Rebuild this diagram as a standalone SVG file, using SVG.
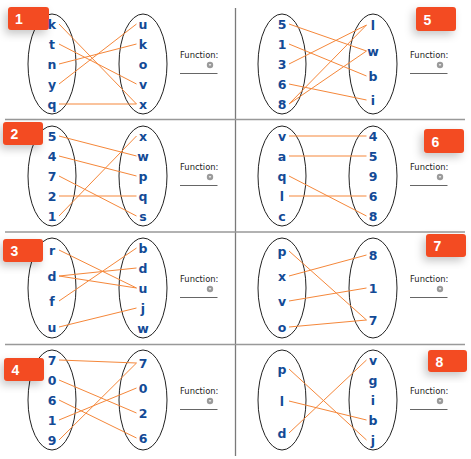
<svg xmlns="http://www.w3.org/2000/svg" width="471" height="459" viewBox="0 0 471 459">
<style>
.bg{fill:#fff}
.div{stroke:#999;stroke-width:1.5;fill:none}
.vdiv{stroke:#7a7a7a;stroke-width:1.3;fill:none}
.set{fill:none;stroke:#222;stroke-width:1}
.badge{fill:#f34b22}
.bn{font-family:"Liberation Sans",Arial,sans-serif;font-weight:bold;font-size:14px;fill:#fff}
.c{stroke:#f5873a;stroke-width:1;fill:none}
.v{font-family:"DejaVu Sans",Verdana,sans-serif;font-weight:bold;font-size:12.5px;fill:#134a96;text-anchor:middle}
.fl{font-family:"DejaVu Sans",Verdana,sans-serif;font-size:8.4px;fill:#222}
.ul{stroke:#666;stroke-width:1}
.dd{fill:#9a9a9a}
.ddt{fill:#fff}
</style>
<defs>
<filter id="sh" x="-50%" y="-50%" width="200%" height="200%">
<feDropShadow dx="-3" dy="4" stdDeviation="4" flood-color="#000" flood-opacity="0.22"/>
</filter>
</defs>
<rect class="bg" x="0" y="0" width="471" height="459"/>
<g id="dividers">
<line class="vdiv" x1="235.5" y1="8" x2="235.5" y2="456"/>
<line class="div" x1="5" y1="119.5" x2="465" y2="119.5"/>
<line class="div" x1="5" y1="232" x2="465" y2="232"/>
<line class="div" x1="5" y1="344.5" x2="465" y2="344.5"/>
</g>
<g id="sets">
<ellipse class="set" cx="52" cy="64" rx="24" ry="50"/><ellipse class="set" cx="143" cy="64" rx="24" ry="50"/>
<ellipse class="set" cx="52" cy="176" rx="24" ry="50"/><ellipse class="set" cx="143" cy="176" rx="24" ry="50"/>
<ellipse class="set" cx="52" cy="288" rx="24" ry="50"/><ellipse class="set" cx="143" cy="288" rx="24" ry="50"/>
<ellipse class="set" cx="52" cy="400" rx="24" ry="50"/><ellipse class="set" cx="143" cy="400" rx="24" ry="50"/>
<ellipse class="set" cx="282" cy="64" rx="24" ry="50"/><ellipse class="set" cx="373" cy="64" rx="24" ry="50"/>
<ellipse class="set" cx="282" cy="176" rx="24" ry="50"/><ellipse class="set" cx="373" cy="176" rx="24" ry="50"/>
<ellipse class="set" cx="282" cy="288" rx="24" ry="50"/><ellipse class="set" cx="373" cy="288" rx="24" ry="50"/>
<ellipse class="set" cx="282" cy="400" rx="24" ry="50"/><ellipse class="set" cx="373" cy="400" rx="24" ry="50"/>
</g>
<g id="badges">
<g id="badge1"><rect class="badge" filter="url(#sh)" x="8" y="7" width="41" height="23" rx="3"/><text class="bn" x="15" y="24">1</text></g>
<g id="badge2"><rect class="badge" filter="url(#sh)" x="3" y="122" width="40" height="23" rx="3"/><text class="bn" x="10.5" y="139">2</text></g>
<g id="badge3"><rect class="badge" filter="url(#sh)" x="3" y="239" width="40" height="23" rx="3"/><text class="bn" x="10.5" y="256">3</text></g>
<g id="badge4"><rect class="badge" filter="url(#sh)" x="4" y="358" width="40" height="23" rx="3"/><text class="bn" x="11.5" y="375">4</text></g>
<g id="badge5"><rect class="badge" filter="url(#sh)" x="416" y="7" width="40" height="24" rx="3"/><text class="bn" x="423.5" y="24.5">5</text></g>
<g id="badge6"><rect class="badge" filter="url(#sh)" x="424" y="129" width="40" height="24" rx="3"/><text class="bn" x="431.5" y="146.5">6</text></g>
<g id="badge7"><rect class="badge" filter="url(#sh)" x="426" y="234" width="40" height="23" rx="3"/><text class="bn" x="433.5" y="251">7</text></g>
<g id="badge8"><rect class="badge" filter="url(#sh)" x="428" y="350" width="39" height="22" rx="3"/><text class="bn" x="435.5" y="366.5">8</text></g>
</g>
<g id="connectors">
<line class="c" x1="59" y1="24" x2="136.5" y2="104"/>
<line class="c" x1="59" y1="44" x2="136.5" y2="84"/>
<line class="c" x1="59" y1="64" x2="136.5" y2="44"/>
<line class="c" x1="59" y1="84" x2="136.5" y2="24"/>
<line class="c" x1="59" y1="104" x2="136.5" y2="104"/>
<line class="c" x1="59" y1="136" x2="136.5" y2="156"/>
<line class="c" x1="59" y1="156" x2="136.5" y2="176"/>
<line class="c" x1="59" y1="176" x2="136.5" y2="216"/>
<line class="c" x1="59" y1="196" x2="136.5" y2="196"/>
<line class="c" x1="59" y1="216" x2="136.5" y2="136"/>
<line class="c" x1="59" y1="250" x2="136.5" y2="288"/>
<line class="c" x1="59" y1="276" x2="136.5" y2="268"/>
<line class="c" x1="59" y1="276" x2="136.5" y2="288"/>
<line class="c" x1="59" y1="301" x2="136.5" y2="248"/>
<line class="c" x1="59" y1="327" x2="136.5" y2="308"/>
<line class="c" x1="59" y1="360" x2="136.5" y2="363"/>
<line class="c" x1="59" y1="380" x2="136.5" y2="413"/>
<line class="c" x1="59" y1="400" x2="136.5" y2="438"/>
<line class="c" x1="59" y1="420" x2="136.5" y2="388"/>
<line class="c" x1="59" y1="440" x2="136.5" y2="363"/>
<line class="c" x1="289" y1="24" x2="366.5" y2="51"/>
<line class="c" x1="289" y1="44" x2="366.5" y2="76"/>
<line class="c" x1="289" y1="64" x2="366.5" y2="25"/>
<line class="c" x1="289" y1="84" x2="366.5" y2="100"/>
<line class="c" x1="289" y1="104" x2="366.5" y2="25"/>
<line class="c" x1="289" y1="104" x2="366.5" y2="51"/>
<line class="c" x1="289" y1="136" x2="366.5" y2="136"/>
<line class="c" x1="289" y1="156" x2="366.5" y2="156"/>
<line class="c" x1="289" y1="176" x2="366.5" y2="216"/>
<line class="c" x1="289" y1="196" x2="366.5" y2="196"/>
<line class="c" x1="289" y1="251" x2="366.5" y2="320"/>
<line class="c" x1="289" y1="276" x2="366.5" y2="255"/>
<line class="c" x1="289" y1="301" x2="366.5" y2="288"/>
<line class="c" x1="289" y1="327" x2="366.5" y2="320"/>
<line class="c" x1="289" y1="369" x2="366.5" y2="440"/>
<line class="c" x1="289" y1="401" x2="366.5" y2="420"/>
<line class="c" x1="289" y1="433" x2="366.5" y2="360"/>
</g>
<g id="map1-domain"><text class="v" x="52" y="28.5">k</text><text class="v" x="52" y="48.5">t</text><text class="v" x="52" y="68.5">n</text><text class="v" x="52" y="88.5">y</text><text class="v" x="52" y="108.5">q</text></g>
<g id="map1-codomain"><text class="v" x="143" y="28.5">u</text><text class="v" x="143" y="48.5">k</text><text class="v" x="143" y="68.5">o</text><text class="v" x="143" y="88.5">v</text><text class="v" x="143" y="108.5">x</text></g>
<g id="map2-domain"><text class="v" x="52" y="140.5">5</text><text class="v" x="52" y="160.5">4</text><text class="v" x="52" y="180.5">7</text><text class="v" x="52" y="200.5">2</text><text class="v" x="52" y="220.5">1</text></g>
<g id="map2-codomain"><text class="v" x="143" y="140.5">x</text><text class="v" x="143" y="160.5">w</text><text class="v" x="143" y="180.5">p</text><text class="v" x="143" y="200.5">q</text><text class="v" x="143" y="220.5">s</text></g>
<g id="map3-domain"><text class="v" x="52" y="254.5">r</text><text class="v" x="52" y="280.5">d</text><text class="v" x="52" y="305.5">f</text><text class="v" x="52" y="331.5">u</text></g>
<g id="map3-codomain"><text class="v" x="143" y="252.5">b</text><text class="v" x="143" y="272.5">d</text><text class="v" x="143" y="292.5">u</text><text class="v" x="143" y="312.5">j</text><text class="v" x="143" y="332.5">w</text></g>
<g id="map4-domain"><text class="v" x="52" y="364.5">7</text><text class="v" x="52" y="384.5">0</text><text class="v" x="52" y="404.5">6</text><text class="v" x="52" y="424.5">1</text><text class="v" x="52" y="444.5">9</text></g>
<g id="map4-codomain"><text class="v" x="143" y="367.5">7</text><text class="v" x="143" y="392.5">0</text><text class="v" x="143" y="417.5">2</text><text class="v" x="143" y="442.5">6</text></g>
<g id="map5-domain"><text class="v" x="282" y="28.5">5</text><text class="v" x="282" y="48.5">1</text><text class="v" x="282" y="68.5">3</text><text class="v" x="282" y="88.5">6</text><text class="v" x="282" y="108.5">8</text></g>
<g id="map5-codomain"><text class="v" x="373" y="29.5">l</text><text class="v" x="373" y="55.5">w</text><text class="v" x="373" y="80.5">b</text><text class="v" x="373" y="104.5">i</text></g>
<g id="map6-domain"><text class="v" x="282" y="140.5">v</text><text class="v" x="282" y="160.5">a</text><text class="v" x="282" y="180.5">q</text><text class="v" x="282" y="200.5">l</text><text class="v" x="282" y="220.5">c</text></g>
<g id="map6-codomain"><text class="v" x="373" y="140.5">4</text><text class="v" x="373" y="160.5">5</text><text class="v" x="373" y="180.5">9</text><text class="v" x="373" y="200.5">6</text><text class="v" x="373" y="220.5">8</text></g>
<g id="map7-domain"><text class="v" x="282" y="255.5">p</text><text class="v" x="282" y="280.5">x</text><text class="v" x="282" y="305.5">v</text><text class="v" x="282" y="331.5">o</text></g>
<g id="map7-codomain"><text class="v" x="373" y="259.5">8</text><text class="v" x="373" y="292.5">1</text><text class="v" x="373" y="324.5">7</text></g>
<g id="map8-domain"><text class="v" x="282" y="373.5">p</text><text class="v" x="282" y="405.5">l</text><text class="v" x="282" y="437.5">d</text></g>
<g id="map8-codomain"><text class="v" x="373" y="364.5">v</text><text class="v" x="373" y="384.5">g</text><text class="v" x="373" y="404.5">i</text><text class="v" x="373" y="424.5">b</text><text class="v" x="373" y="444.5">j</text></g>
<g id="functions">
<g id="func1"><text class="fl" x="180" y="58">Function:</text><line class="ul" x1="180" y1="73.5" x2="217.5" y2="73.5"/><circle class="dd" cx="210" cy="65" r="3.2"/><path class="ddt" d="M208.7 64.3H211.3L210 66Z"/></g>
<g id="func2"><text class="fl" x="180" y="170">Function:</text><line class="ul" x1="180" y1="185.5" x2="217.5" y2="185.5"/><circle class="dd" cx="210" cy="177" r="3.2"/><path class="ddt" d="M208.7 176.3H211.3L210 178Z"/></g>
<g id="func3"><text class="fl" x="180" y="282">Function:</text><line class="ul" x1="180" y1="297.5" x2="217.5" y2="297.5"/><circle class="dd" cx="210" cy="289" r="3.2"/><path class="ddt" d="M208.7 288.3H211.3L210 290Z"/></g>
<g id="func4"><text class="fl" x="180" y="394">Function:</text><line class="ul" x1="180" y1="409.5" x2="217.5" y2="409.5"/><circle class="dd" cx="210" cy="401" r="3.2"/><path class="ddt" d="M208.7 400.3H211.3L210 402Z"/></g>
<g id="func5"><text class="fl" x="410" y="58">Function:</text><line class="ul" x1="410" y1="73.5" x2="447.5" y2="73.5"/><circle class="dd" cx="440" cy="65" r="3.2"/><path class="ddt" d="M438.7 64.3H441.3L440 66Z"/></g>
<g id="func6"><text class="fl" x="410" y="170">Function:</text><line class="ul" x1="410" y1="185.5" x2="447.5" y2="185.5"/><circle class="dd" cx="440" cy="177" r="3.2"/><path class="ddt" d="M438.7 176.3H441.3L440 178Z"/></g>
<g id="func7"><text class="fl" x="410" y="282">Function:</text><line class="ul" x1="410" y1="297.5" x2="447.5" y2="297.5"/><circle class="dd" cx="440" cy="289" r="3.2"/><path class="ddt" d="M438.7 288.3H441.3L440 290Z"/></g>
<g id="func8"><text class="fl" x="410" y="394">Function:</text><line class="ul" x1="410" y1="409.5" x2="447.5" y2="409.5"/><circle class="dd" cx="440" cy="401" r="3.2"/><path class="ddt" d="M438.7 400.3H441.3L440 402Z"/></g>
</g>
</svg>
